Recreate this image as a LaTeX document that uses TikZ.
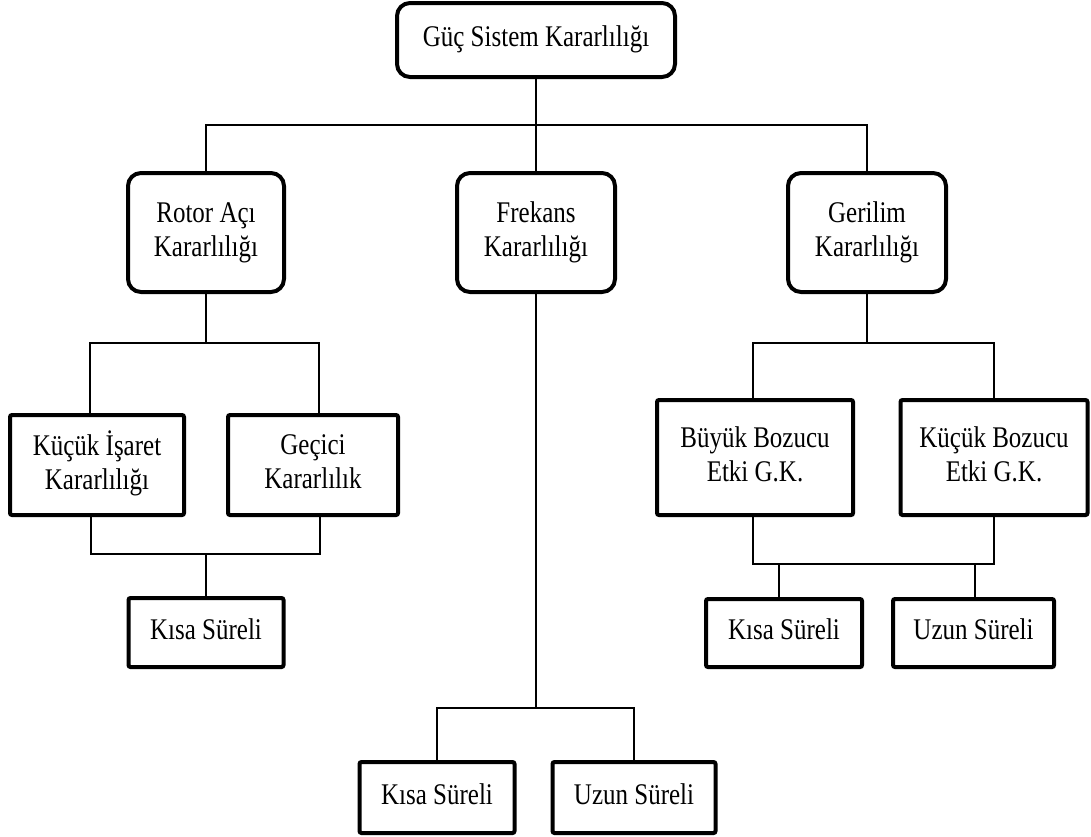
\documentclass[tikz,border=0pt]{standalone}
\usepackage{fontspec}
\setmainfont{Liberation Serif}
\usepackage{graphicx}
% two-line labels, slightly stretched vertically
\newcommand\lbl[1]{\scalebox{1}[1.2]{\begin{tabular}{@{}c@{}}#1\end{tabular}}}
\begin{document}
\begin{tikzpicture}[x=1pt,y=-1pt,
  box/.style={draw, line width=4pt, inner sep=0pt, fill=white,
              font=\fontsize{25}{28}\selectfont, align=center},
  rbox/.style={box, rounded corners=13pt},
  sbox/.style={box, rounded corners=2pt},
  link/.style={line width=1.8pt}]
\useasboundingbox (0,0) rectangle (1091,836);

% root
\node[rbox, minimum width=278, minimum height=74] (top) at (536,40) {\lbl{Güç Sistem Kararlılığı}};

% first level
\node[rbox, minimum width=156, minimum height=119] (rotor) at (206,232.5) {\lbl{Rotor Açı\\Kararlılığı}};
\node[rbox, minimum width=158, minimum height=119] (frek)  at (536,232.5) {\lbl{Frekans\\Kararlılığı}};
\node[rbox, minimum width=158, minimum height=119] (geril) at (867,232.5) {\lbl{Gerilim\\Kararlılığı}};

% rotor angle branch
\node[sbox, minimum width=174, minimum height=100] (kis) at (97,465)  {\lbl{Küçük İşaret\\Kararlılığı}};
\node[sbox, minimum width=170, minimum height=100] (gec) at (313,465) {\lbl{Geçici\\Kararlılık}};
\node[sbox, minimum width=155, minimum height=69]  (ks1) at (206,632.5) {\lbl{Kısa Süreli}};

% voltage branch
\node[sbox, minimum width=196, minimum height=115] (buy) at (755,457.5) {\lbl{Büyük Bozucu\\Etki G.K.}};
\node[sbox, minimum width=187, minimum height=115] (kbz) at (994,457.5) {\lbl{Küçük Bozucu\\Etki G.K.}};
\node[sbox, minimum width=156, minimum height=68]  (ks2) at (784,633) {\lbl{Kısa Süreli}};
\node[sbox, minimum width=161, minimum height=68]  (us2) at (973.5,633) {\lbl{Uzun Süreli}};

% frequency branch
\node[sbox, minimum width=155, minimum height=71] (ks3) at (437,797.5) {\lbl{Kısa Süreli}};
\node[sbox, minimum width=163, minimum height=71] (us3) at (634,797.5) {\lbl{Uzun Süreli}};

% bus junctions
\coordinate (b0) at (536,125);
\coordinate (b1) at (206,343);
\coordinate (b2) at (206,554);
\coordinate (b3) at (536,708);
\coordinate (b4) at (867,343);
\coordinate (b5) at (779,564);
\coordinate (b6) at (975,564);

% root to first level
\draw[link] (top.south) -- (b0);
\draw[link] (rotor.north) |- (b0) -| (geril.north);
\draw[link] (frek.north) -- (b0);

% rotor angle connectors
\draw[link] (rotor.south) -- (b1);
\draw[link] ([xshift=-7pt]kis.north) |- (b1) -| ([xshift=6pt]gec.north);
\draw[link] ([xshift=-6pt]kis.south) |- (b2) -| ([xshift=7pt]gec.south);
\draw[link] (b2) -- (ks1.north);

% frequency connectors
\draw[link] (frek.south) -- (b3);
\draw[link] (ks3.north) |- (b3) -| (us3.north);

% voltage connectors
\draw[link] (geril.south) -- (b4);
\draw[link] ([xshift=-2pt]buy.north) |- (b4) -| (kbz.north);
\draw[link] ([xshift=-2pt]buy.south) |- (b5) -- (b6) -| (kbz.south);
\draw[link] (b5) -- (b5 |- ks2.north);
\draw[link] (b6) -- (b6 |- us2.north);
\end{tikzpicture}
\end{document}
